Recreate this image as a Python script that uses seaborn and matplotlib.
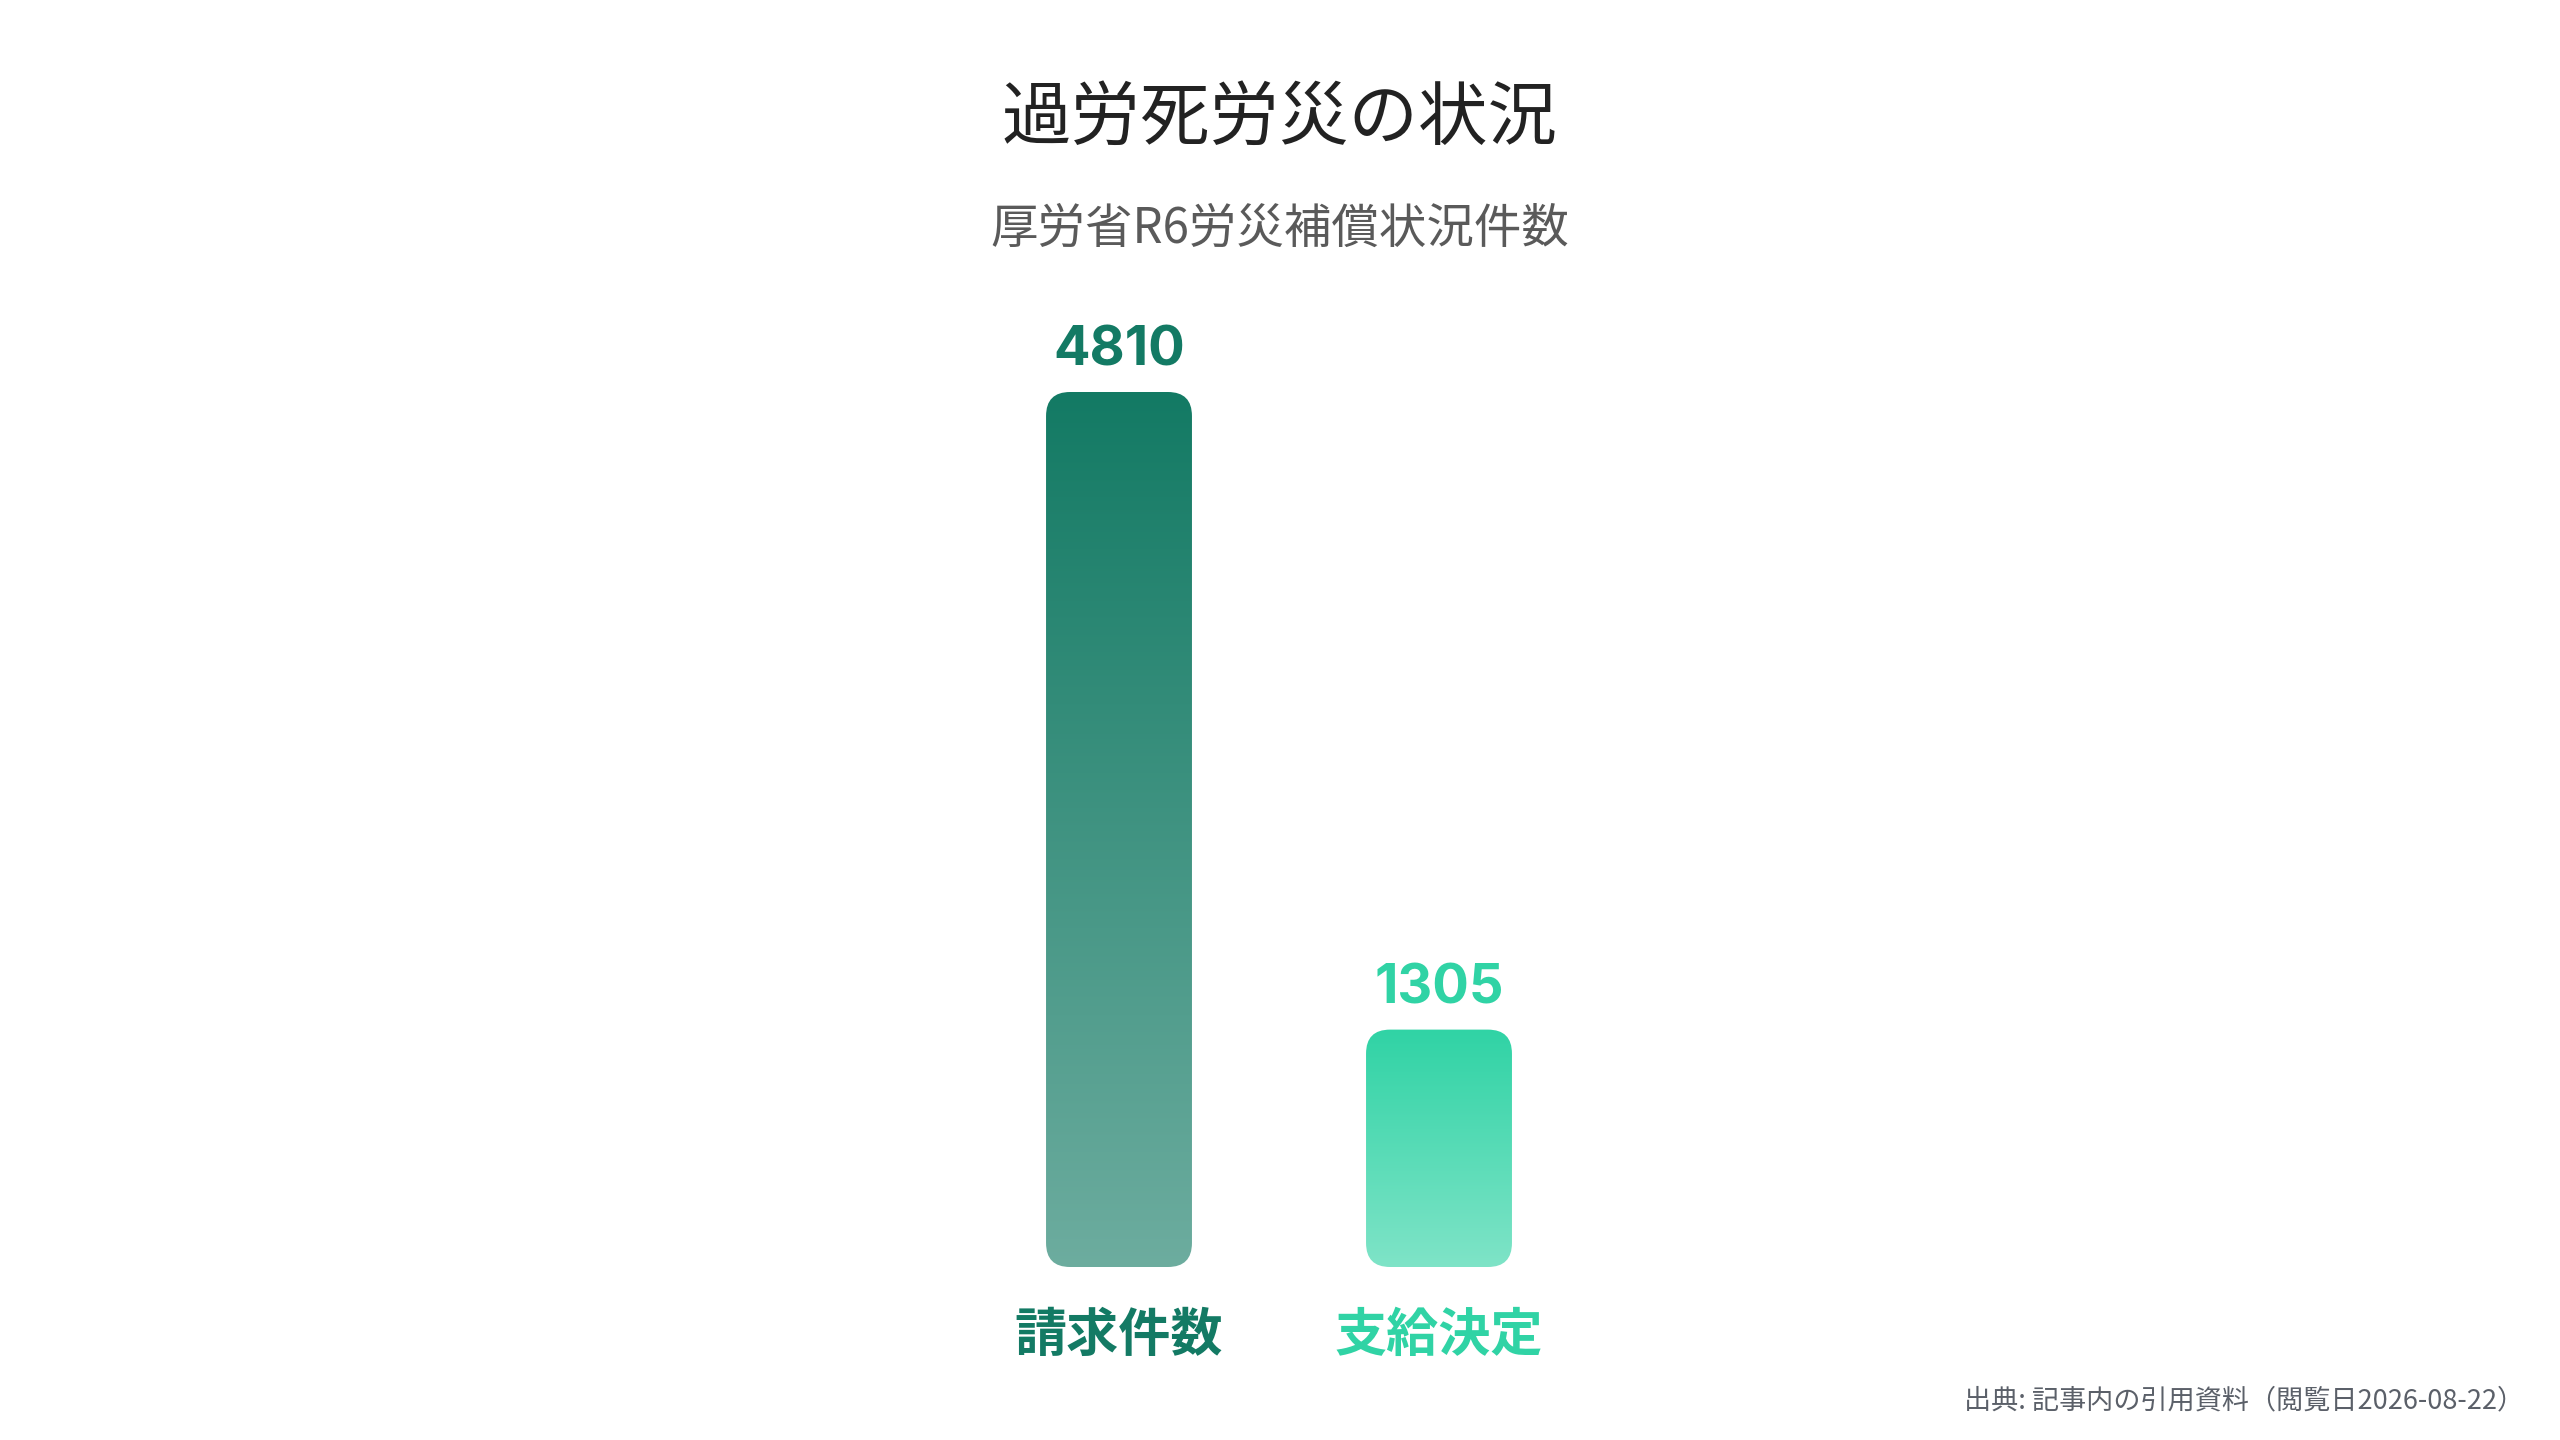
import numpy as np
import matplotlib
matplotlib.use("Agg")
import matplotlib.pyplot as plt
import seaborn as sns
from matplotlib.patches import FancyBboxPatch
from matplotlib.colors import to_rgb

# ---- data ----
categories = ["請求件数", "支給決定"]
values = [4810, 1305]
bar_colors = ["#137a64", "#30d3a5"]
title = "過労死労災の状況"
subtitle = "厚労省R6労災補償状況件数"
source = "出典: 記事内の引用資料（閲覧日2026-08-22）"

sns.set_theme(style="white")
plt.rcParams["font.family"] = ["Noto Sans CJK JP", "DejaVu Sans"]

W, H, DPI = 25.6, 14.4, 100
fig = plt.figure(figsize=(W, H), dpi=DPI, facecolor="white")

# axes placed in pixel terms: baseline at y=1267px, top of max bar at 392px
px_w, px_h = 2560, 1440
left_px, width_px = 959, 640
base_px, top_px = 1267, 392
ax = fig.add_axes([left_px / px_w, (px_h - base_px) / px_h,
                   width_px / px_w, (base_px - top_px) / px_h])

sns.barplot(x=categories, y=values, hue=categories, palette=bar_colors,
            width=0.456, legend=False, ax=ax, saturation=1)
ax.set_xlim(-0.5, 1.5)
ax.set_ylim(0, max(values))
for s in ax.spines.values():
    s.set_visible(False)
ax.set_yticks([])
ax.set_xlabel("")
ax.set_ylabel("")
ax.tick_params(axis="x", length=0, pad=30.5)
for lbl, c in zip(ax.get_xticklabels(), bar_colors):
    lbl.set_color(c)
    lbl.set_fontsize(37.5)
    lbl.set_fontweight("bold")
    lbl.set_family(["Noto Sans CJK JP", "DejaVu Sans"])

# pixel scales for rounding
p0 = ax.transData.transform((0, 0))
p1 = ax.transData.transform((1, 1))
px_per_x = p1[0] - p0[0]
px_per_y = p1[1] - p0[1]
radius_px = 24
r_x = radius_px / px_per_x
aspect = px_per_x / px_per_y

def blend_white(c, a):
    c = np.array(to_rgb(c))
    return 1 - (1 - c) * a

bars = list(ax.patches)
for bar, c, v in zip(bars, bar_colors, values):
    x, y = bar.get_x(), bar.get_y()
    w, h = bar.get_width(), bar.get_height()
    bar.set_visible(False)
    rr = FancyBboxPatch((x, y), w, h,
                        boxstyle=f"round,pad=0,rounding_size={r_x}",
                        mutation_aspect=aspect, facecolor="none",
                        edgecolor="none", transform=ax.transData)
    ax.add_patch(rr)
    top = blend_white(c, 1.0)
    bot = blend_white(c, 0.62)
    n = 256
    t = np.linspace(0, 1, n)[:, None]
    grad = top[None, :] * (1 - t) + bot[None, :] * t
    img = grad[:, None, :]
    im = ax.imshow(img, extent=(x, x + w, y, y + h), origin="upper",
                   aspect="auto", interpolation="bilinear", zorder=2)
    im.set_clip_path(rr)
    ax.annotate(f"{v}", xy=(x + w / 2, y + h), xytext=(0, 29.5),
                textcoords="offset points", ha="center", va="center",
                fontsize=39, fontweight="bold", color=c,
                family=["Inter", "DejaVu Sans"])

ax.set_xlim(-0.5, 1.5)
ax.set_ylim(0, max(values))

fig.text(0.5, 1 - 119 / px_h, title, ha="center", va="center",
         fontsize=50, color="#222222")
fig.text(0.5, 1 - 229 / px_h, subtitle, ha="center", va="center",
         fontsize=34.2, color="#5a5a5a")
fig.text(2524 / px_w, 1 - 1401 / px_h, source, ha="right", va="center",
         fontsize=19.5, color="#5b6069")

fig.savefig("out.png", dpi=DPI, facecolor="white")
